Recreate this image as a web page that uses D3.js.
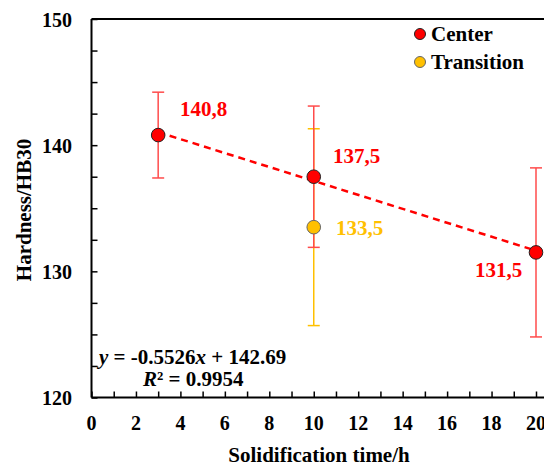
<!DOCTYPE html>
<html>
<head>
<meta charset="utf-8">
<script src="https://cdn.jsdelivr.net/npm/d3@7"></script>
<style>
  body { margin: 0; background: #fff; }
</style>
</head>
<body>
<script>
// data
const centerX = [3, 10, 20];
const centerY = [140.8, 137.5, 131.5];
const centerErr = [3.4, 5.6, 6.7];
const centerLabels = ["140,8", "137,5", "131,5"];
const transX = [10];
const transY = [133.5];
const transErr = [7.8];
const transLabels = ["133,5"];
const fitSlope = -0.5526, fitIntercept = 142.69;
const xTicks = [0, 2, 4, 6, 8, 10, 12, 14, 16, 18, 20];
const yTicks = [120, 130, 140, 150];

const W = 544, H = 467;
const svg = d3.select("body").append("svg").attr("width", W).attr("height", H);

// serif bold text helper
function txt(sel) {
  return sel.style("font-family", "\"Liberation Serif\"").style("font-weight", "bold");
}

// scales (plot box: x 91.5..536 for 0..20, y 397..19 for 120..150)
const x = d3.scaleLinear().domain([0, 20]).range([91.5, 536]);
const y = d3.scaleLinear().domain([120, 150]).range([397.5, 19]);

// frame: left, top, bottom lines (right edge runs off the picture)
svg.append("line").attr("x1", x(0)).attr("x2", x(0)).attr("y1", y(150)).attr("y2", y(120))
  .attr("stroke", "#000").attr("stroke-width", 2);
svg.append("line").attr("x1", x(0)).attr("x2", W).attr("y1", y(150)).attr("y2", y(150))
  .attr("stroke", "#000").attr("stroke-width", 2);
svg.append("line").attr("x1", x(0)).attr("x2", W).attr("y1", y(120)).attr("y2", y(120))
  .attr("stroke", "#000").attr("stroke-width", 2);

// x ticks, inward
const xAxis = d3.axisBottom(x).tickValues(d3.range(0, 21, 1)).tickSize(-6).tickFormat("");
svg.append("g").attr("transform", `translate(0,${y(120)})`).call(xAxis)
  .call(g => g.select(".domain").remove())
  .call(g => g.selectAll("line").attr("stroke", "#000").attr("stroke-width", 1.5));
txt(svg.append("g").selectAll("text").data(xTicks).join("text"))
  .attr("x", d => x(d)).attr("y", 430).attr("text-anchor", "middle")
  .style("font-size", "20px").text(d => d);

// y ticks, inward
const yAxis = d3.axisLeft(y).tickValues(d3.range(120, 150.1, 2.5)).tickSize(-6).tickFormat("");
svg.append("g").attr("transform", `translate(${x(0)},0)`).call(yAxis)
  .call(g => g.select(".domain").remove())
  .call(g => g.selectAll("line").attr("stroke", "#000").attr("stroke-width", 1.5));
txt(svg.append("g").selectAll("text").data(yTicks).join("text"))
  .attr("x", 72).attr("y", d => y(d) + 7.5).attr("text-anchor", "end")
  .style("font-size", "20px").text(d => d);

// axis titles
txt(svg.append("text")).attr("x", 319).attr("y", 462).attr("text-anchor", "middle")
  .style("font-size", "21px").text("Solidification time/h");
txt(svg.append("text")).attr("transform", "translate(31,210) rotate(-90)").attr("text-anchor", "middle")
  .style("font-size", "21px").text("Hardness/HB30");

// error bars
function errBars(xs, ys, es, color) {
  const g = svg.append("g").attr("stroke", color).attr("stroke-width", 1.5);
  xs.forEach((xv, i) => {
    const cx = x(xv), top = y(ys[i] + es[i]), bot = y(ys[i] - es[i]);
    g.append("line").attr("x1", cx).attr("x2", cx).attr("y1", top).attr("y2", bot);
    g.append("line").attr("x1", cx - 6).attr("x2", cx + 6).attr("y1", top).attr("y2", top);
    g.append("line").attr("x1", cx - 6).attr("x2", cx + 6).attr("y1", bot).attr("y2", bot);
  });
}
errBars(transX, transY, transErr, "#FFC000");
errBars(centerX, centerY, centerErr, "#FF4B4B");

// trend line
svg.append("line")
  .attr("x1", x(3)).attr("y1", y(fitSlope * 3 + fitIntercept))
  .attr("x2", x(20)).attr("y2", y(fitSlope * 20 + fitIntercept))
  .attr("stroke", "#FF0000").attr("stroke-width", 2.5).attr("stroke-dasharray", "7,5");

// points
svg.append("g").selectAll("circle").data(transX).join("circle")
  .attr("cx", d => x(d)).attr("cy", (d, i) => y(transY[i])).attr("r", 6.8)
  .attr("fill", "#FFC000").attr("stroke", "#666").attr("stroke-width", 1);
svg.append("g").selectAll("circle").data(centerX).join("circle")
  .attr("cx", d => x(d)).attr("cy", (d, i) => y(centerY[i])).attr("r", 6.8)
  .attr("fill", "#FF0000").attr("stroke", "#222").attr("stroke-width", 1);

// value labels
const labelPos = [[180, 116], [333, 163], [475, 277]];
txt(svg.append("g").selectAll("text").data(centerLabels).join("text"))
  .attr("x", (d, i) => labelPos[i][0]).attr("y", (d, i) => labelPos[i][1])
  .style("font-size", "21px").attr("fill", "#FF0000").text(d => d);
txt(svg.append("text")).attr("x", 336).attr("y", 235).style("font-size", "21px")
  .attr("fill", "#FFC000").text(transLabels[0]);

// equation
const eq = txt(svg.append("text")).attr("x", 99).attr("y", 364).style("font-size", "21px");
eq.append("tspan").style("font-style", "italic").text("y");
eq.append("tspan").text(" = -0.5526");
eq.append("tspan").style("font-style", "italic").text("x");
eq.append("tspan").text(" + 142.69");
const r2 = txt(svg.append("text")).attr("x", 143).attr("y", 386).style("font-size", "21px");
r2.append("tspan").style("font-style", "italic").text("R");
r2.append("tspan").text("² = 0.9954");

// legend
const legend = [["Center", "#FF0000", "#222"], ["Transition", "#FFC000", "#666"]];
legend.forEach((d, i) => {
  const ly = 34 + i * 28;
  svg.append("circle").attr("cx", 420).attr("cy", ly).attr("r", 5.5)
    .attr("fill", d[1]).attr("stroke", d[2]).attr("stroke-width", 1);
  txt(svg.append("text")).attr("x", 431).attr("y", ly + 6.5).style("font-size", "21px").text(d[0]);
});
</script>
</body>
</html>
